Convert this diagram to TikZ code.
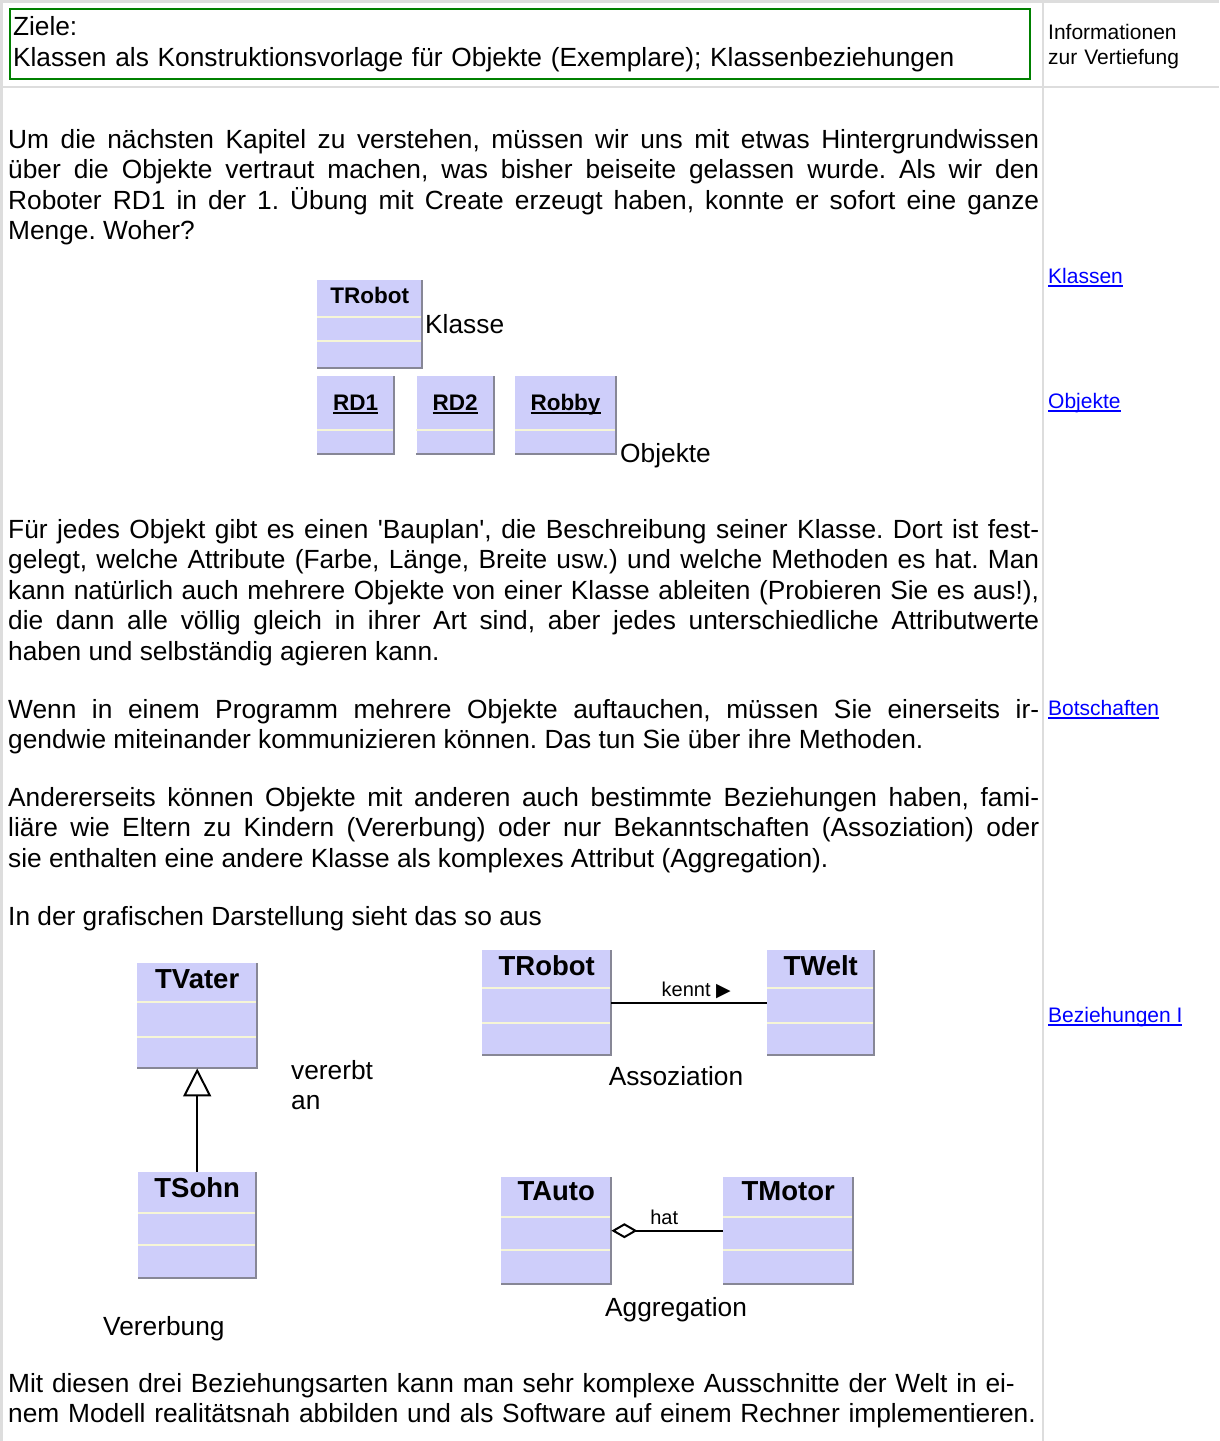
\documentclass[tikz,border=0pt]{standalone}
\usepackage{fontspec}
\setmainfont{Liberation Sans}
\newfontfamily\symfont{DejaVu Sans}
\usetikzlibrary{positioning,arrows.meta}
\definecolor{gridgray}{RGB}{221,221,221}
\definecolor{headgreen}{RGB}{0,128,0}
\definecolor{linkblue}{RGB}{0,0,255}
\definecolor{umlfill}{RGB}{206,206,250}
\definecolor{sepyellow}{RGB}{246,246,214}
\definecolor{shadegray}{RGB}{135,135,150}
\frenchspacing
\newcommand\bodyfont{\fontsize{26.3}{30.5}\selectfont}
\newcommand\sidefont{\fontsize{21}{25}\selectfont}
\newcommand\ustrich[2]{\setbox0\hbox{#2}\rlap{\rule[-#1]{\wd0}{1.6pt}}\box0}
\newcommand\link[1]{\textcolor{linkblue}{\ustrich{3.5pt}{#1}}}
\tikzset{
 para/.style
  = {anchor=base west, inner sep=0pt, text width=1031pt, align=justify, font=\bodyfont},
 side/.style
  = {anchor=base west, inner sep=0pt, font=\sidefont},
 zielbox/.style
  = {draw=headgreen, line width=2pt, anchor=north west, inner xsep=3pt, inner ysep=0pt,
     text width=1014pt, minimum height=70pt, align=left, font=\bodyfont},
 umlclass/.style
  = {rectangle, fill=umlfill, anchor=north west, inner sep=0pt},
 umltitle/.style
  = {anchor=base, inner sep=0pt, font=\bfseries\fontsize{27.5}{30}\selectfont},
 objtitle/.style
  = {anchor=base, inner sep=0pt, font=\bfseries\fontsize{22.5}{26}\selectfont},
 umlline/.style
  = {draw=sepyellow, line width=2pt},
 umlshadow/.style
  = {draw=shadegray, line width=2pt},
 gridline/.style
  = {draw=gridgray, line width=2.5pt},
}

\begin{document}
\begin{tikzpicture}[x=1pt, y=-1pt,
    assoc/.style = {draw, line width=2pt},
    erbt/.style = {draw, line width=2pt, -{Triangle[open, length=28pt, width=28pt, line width=2pt]}},
    aggr/.style = {draw, line width=2pt, {Diamond[open, length=26pt, width=15pt, line width=2pt]}-}]
\useasboundingbox (0,0) rectangle (1219,1441);

% Table lines
\draw[gridline] (0,1.5) -- (1219,1.5);
\draw[gridline] (0,87) -- (1219,87);
\draw[gridline] (1.5,0) -- (1.5,1441);
\draw[gridline] (1043,0) -- (1043,1441);

% Ziele
\node[zielbox] (ziele) at (9,8) {Ziele:\\Klassen als Konstruktionsvorlage für Objekte (Exemplare); Klassenbeziehungen};
\node[side, text width=165pt, align=left] (info) at (1048,39) {Informationen\\zur Vertiefung};

% Text
\node[para] (pa) at (8,148) {Um die nächsten Kapitel zu verstehen, müssen wir uns mit etwas Hintergrundwissen\linebreak
über die Objekte vertraut machen, was bisher beiseite gelassen wurde. Als wir den\linebreak
Roboter RD1 in der 1. Übung mit Create erzeugt haben, konnte er sofort eine ganze\linebreak
Menge. Woher?};
\node[para] (pb) at (8,538) {Für jedes Objekt gibt es einen \textquotesingle Bauplan\textquotesingle, die Beschreibung seiner Klasse. Dort ist fest-\linebreak
gelegt, welche Attribute (Farbe, Länge, Breite usw.) und welche Methoden es hat. Man\linebreak
kann natürlich auch mehrere Objekte von einer Klasse ableiten (Probieren Sie es aus!),\linebreak
die dann alle völlig gleich in ihrer Art sind, aber jedes unterschiedliche Attributwerte\linebreak
haben und selbständig agieren kann.};
\node[para] (pc) at (8,718) {Wenn in einem Programm mehrere Objekte auftauchen, müssen Sie einerseits ir-\linebreak
gendwie miteinander kommunizieren können. Das tun Sie über ihre Methoden.};
\node[para] (pd) at (8,806) {Andererseits können Objekte mit anderen auch bestimmte Beziehungen haben, fami-\linebreak
liäre wie Eltern zu Kindern (Vererbung) oder nur Bekanntschaften (Assoziation) oder\linebreak
sie enthalten eine andere Klasse als komplexes Attribut (Aggregation).};
\node[para] (pe) at (8,925) {In der grafischen Darstellung sieht das so aus};
\node[para, align=left] (pf) at (8,1392) {Mit diesen drei Beziehungsarten kann man sehr komplexe Ausschnitte der Welt in ei-\\
nem Modell realitätsnah abbilden und als Software auf einem Rechner implementieren.};

% Links
\node[side] (lklassen) at (1048,283) {\link{Klassen}};
\node[side] (lobjekte) at (1048,408) {\link{Objekte}};
\node[side] (lbotschaften) at (1048,715) {\link{Botschaften}};
\node[side] (lbeziehungen) at (1048,1022) {\link{Beziehungen I}};

% Klasse und Objekte
\node[umlclass, minimum width=105pt, minimum height=88pt] (klasse) at (317,280) {};
\node[objtitle] at ([yshift=-23]klasse.north) {TRobot};
\node[umlclass, minimum width=77pt, minimum height=78pt] (rdeins) at (317,376) {};
\node[umlclass, minimum width=77pt, minimum height=78pt, right=22pt of rdeins] (rdzwei) {};
\node[umlclass, minimum width=101pt, minimum height=78pt, right=21pt of rdzwei] (robby) {};
\node[objtitle] at ([yshift=-34]rdeins.north) {\ustrich{4pt}{RD1}};
\node[objtitle] at ([yshift=-34]rdzwei.north) {\ustrich{4pt}{RD2}};
\node[objtitle] at ([yshift=-34]robby.north) {\ustrich{4pt}{Robby}};
\node[side, font=\bodyfont] (lklasse) at (425,333) {Klasse};
\node[side, font=\bodyfont] (lobj) at (620,462) {Objekte};

% Vererbung
\node[umlclass, minimum width=120pt, minimum height=105pt] (vater) at (137,963) {};
\node[umltitle] at ([yshift=-25]vater.north) {TVater};
\node[umlclass, minimum width=118pt, minimum height=106pt] (sohn) at (138,1172) {};
\node[umltitle] at ([yshift=-25]sohn.north) {TSohn};
\node[side, font=\bodyfont, text width=100pt, align=left] (lvererbt) at (291,1079) {vererbt\\an};
\node[side, font=\bodyfont] (lvererbung) at (103,1335) {Vererbung};

% Assoziation
\node[umlclass, minimum width=129pt, minimum height=105pt] (robot) at (482,950) {};
\node[umltitle] at ([yshift=-25]robot.north) {TRobot};
\node[umlclass, minimum width=107pt, minimum height=105pt] (welt) at (767,950) {};
\node[umltitle] at ([yshift=-25]welt.north) {TWelt};
\node[side, font=\bodyfont, anchor=base] (lassoz) at (676,1085) {Assoziation};

% Aggregation
\node[umlclass, minimum width=110pt, minimum height=107pt] (auto) at (501,1177) {};
\node[umltitle] at ([yshift=-23]auto.north) {TAuto};
\node[umlclass, minimum width=130pt, minimum height=107pt] (motor) at (723,1177) {};
\node[umltitle] at ([yshift=-23]motor.north) {TMotor};
\node[side, font=\bodyfont, anchor=base] (laggr) at (676,1316) {Aggregation};

% Compartments and shadows
\foreach \c/\d in {klasse/37, klasse/61, rdeins/54, rdzwei/54, robby/54,
    vater/39, vater/74, sohn/41, sohn/73, robot/38, robot/73, welt/38, welt/73,
    auto/40, auto/73, motor/40, motor/73}
  \draw[umlline] ([yshift=-\d]\c.north west) -- ([yshift=-\d]\c.north east);
\foreach \c in {klasse, rdeins, rdzwei, robby, vater, sohn, robot, welt, auto, motor}
  \draw[umlshadow] (\c.north east) -- (\c.south east) -- (\c.south west);

% Connectors
\draw[erbt] (sohn.north) -- (sohn.north |- vater.south);
\draw[assoc] (robot) -- node[anchor=base, yshift=6pt, xshift=7pt, inner sep=0pt, font=\fontsize{20}{22}\selectfont] {kennt {\symfont\fontsize{19}{20}\selectfont ▶}} (welt);
\draw[aggr] (auto) -- node[anchor=base, yshift=6pt, xshift=-3pt, inner sep=0pt, font=\fontsize{20}{22}\selectfont] {hat} (motor);

\end{tikzpicture}
\end{document}
